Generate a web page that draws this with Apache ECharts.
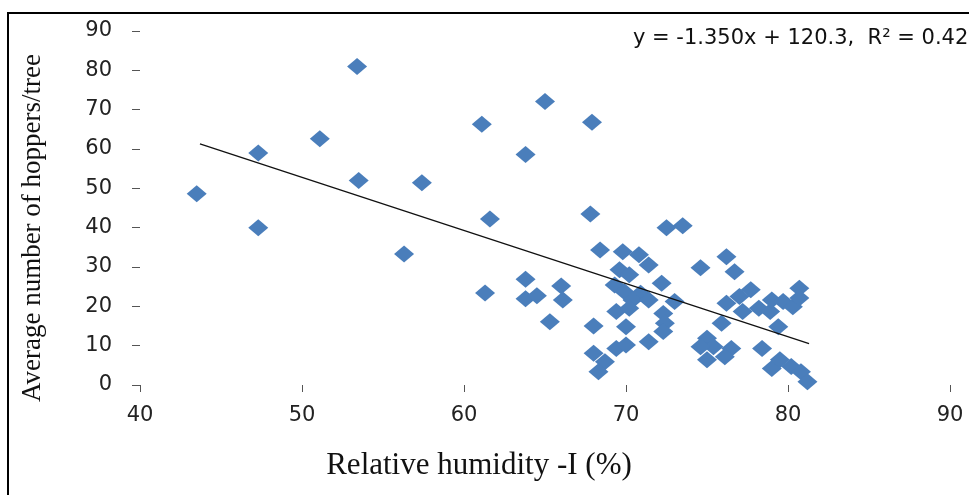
<!DOCTYPE html>
<html>
<head>
<meta charset="utf-8">
<script src="https://cdn.jsdelivr.net/npm/echarts@6/dist/echarts.min.js"></script>
<style>
  html, body { margin: 0; padding: 0; background: #fff; }
  #chart { width: 969px; height: 495px; }
</style>
</head>
<body>
<div id="chart"></div>
<script>
var myChart = echarts.init(document.getElementById('chart'));

// relative humidity (%) of each tree / hoppers per tree
var humidity = [
  43.5, 47.3, 47.3, 51.1, 53.4, 53.5, 56.3, 57.4, 61.1, 61.3, 61.6, 63.8, 63.8, 63.8, 64.5, 65.0, 65.3, 66.0, 66.1, 67.9, 67.8, 68.0, 68.4,
  68.0, 68.7, 68.3, 69.4, 70.0, 70.0, 71.4,
  69.8, 70.8, 71.4, 69.6, 70.2, 69.3, 69.9, 70.9, 70.4, 71.4, 69.4, 70.2,
  72.5, 73.5, 72.2, 74.6, 73.0, 72.3, 72.4, 72.3,
  76.2, 76.7, 76.2, 77.0, 77.7, 77.2, 78.2, 78.9, 79.0, 79.7, 80.3, 80.7, 80.7, 75.9, 79.4,
  75.0, 75.4, 74.6, 76.5, 76.1, 75.0, 78.4, 79.0, 79.5, 80.2, 80.8, 81.2
];
var hoppers = [
  48.6, 59.0, 40.0, 62.6, 81.0, 52.0, 33.3, 51.4, 66.3, 23.4, 42.2, 58.6, 26.9, 21.9, 22.7, 72.1, 16.1, 25.2, 21.6, 66.8, 43.5, 15.0, 34.3,
  8.1, 5.9, 3.4, 9.3, 10.2, 14.8, 11.0,
  33.9, 33.1, 30.5, 29.3, 28.0, 25.4, 23.7, 23.3, 21.6, 21.6, 18.7, 19.5,
  40.0, 40.5, 25.9, 29.8, 21.2, 18.2, 15.7, 13.6,
  32.6, 28.8, 20.8, 22.5, 24.2, 18.7, 19.5, 18.7, 21.6, 21.2, 19.9, 24.6, 22.1, 15.7, 14.8,
  11.9, 9.7, 9.7, 9.3, 7.2, 6.4, 9.3, 4.2, 6.4, 4.7, 3.4, 0.8
];

// ends of the linear trend line
var trendX = [43.7, 81.3];
var trendY = [61.3, 10.5];
var equation = 'y = -1.350x + 120.3,  R² = 0.42';

var points = humidity.map(function (h, i) { return [h, hoppers[i]]; });
var trend = trendX.map(function (x, i) { return [x, trendY[i]]; });

myChart.setOption({
  animation: false,
  grid: { left: 140, right: 19, top: 31, bottom: 110 },
  xAxis: {
    type: 'value',
    min: 40, max: 90, interval: 10,
    axisLine: { show: false },
    axisTick: { show: true, length: 7, lineStyle: { color: '#555', width: 1 } },
    axisLabel: { margin: 20, color: '#222', fontFamily: 'DejaVu Sans', fontSize: 21 },
    splitLine: { show: false }
  },
  yAxis: {
    type: 'value',
    min: 0, max: 90, interval: 10,
    axisLine: { show: false },
    axisTick: { show: true, length: 8, lineStyle: { color: '#555', width: 1 } },
    axisLabel: { margin: 28, color: '#222', fontFamily: 'DejaVu Sans', fontSize: 21 },
    splitLine: { show: false }
  },
  series: [
    {
      type: 'scatter',
      data: points,
      symbol: 'diamond',
      symbolSize: [20, 17],
      itemStyle: { color: '#4a7ebb', opacity: 1 }
    },
    {
      type: 'line',
      data: trend,
      symbol: 'none',
      lineStyle: { color: '#111', width: 1.3 },
      z: 3
    }
  ],
  graphic: [
    {
      type: 'rect',
      shape: { x: 8, y: 13, width: 1000, height: 600 },
      style: { fill: 'none', stroke: '#000', lineWidth: 2 },
      silent: true
    },
    {
      type: 'text',
      x: 633, y: 39,
      style: { text: equation, fontFamily: 'DejaVu Sans', fontSize: 21, fill: '#111', verticalAlign: 'middle' }
    },
    {
      type: 'text',
      x: 33, y: 228,
      rotation: Math.PI / 2,
      style: {
        text: 'Average number of hoppers/tree',
        fontFamily: 'Liberation Serif', fontSize: 27, fill: '#111',
        align: 'center', verticalAlign: 'middle'
      }
    },
    {
      type: 'text',
      x: 479, y: 466,
      style: {
        text: 'Relative humidity -I (%)',
        fontFamily: 'Liberation Serif', fontSize: 31, fill: '#111',
        align: 'center', verticalAlign: 'middle'
      }
    }
  ]
});
</script>
</body>
</html>
